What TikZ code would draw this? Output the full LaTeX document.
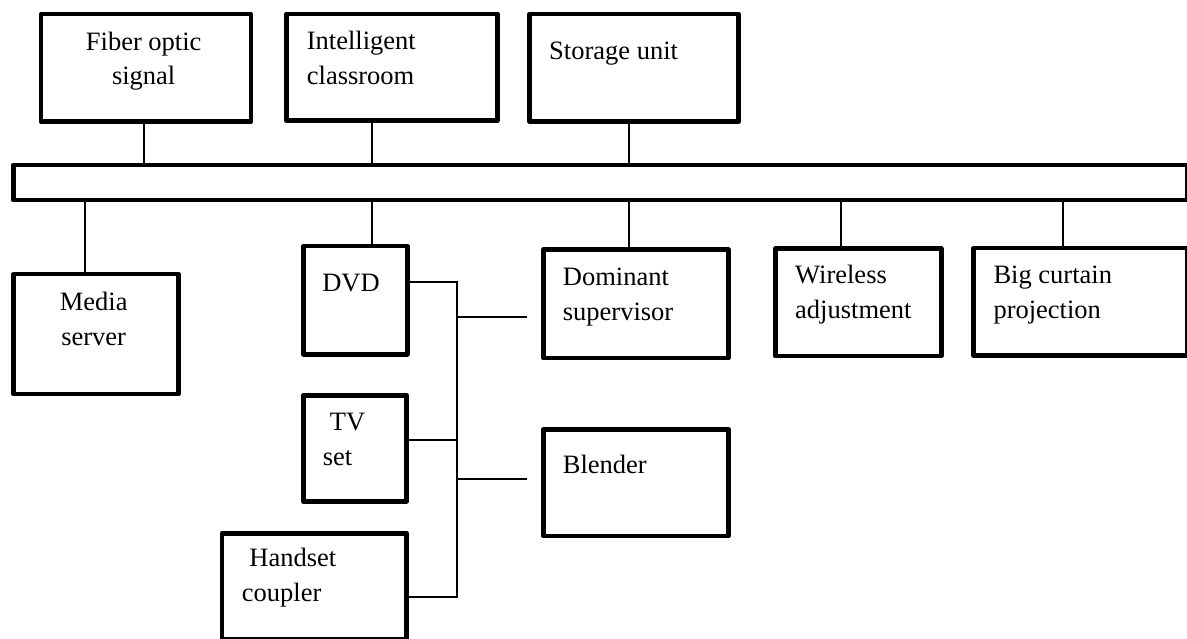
\documentclass[tikz,border=0pt]{standalone}
\usepackage{fontspec}
\setmainfont{Liberation Serif}
\begin{document}
\begin{tikzpicture}[x=1pt,y=1pt,
  box/.style={draw, line width=4.5pt, line join=round, inner sep=0pt, anchor=north west},
  wire/.style={line width=1.7pt},
  txt/.style={inner sep=0pt, font=\fontsize{26.5}{34.8}\selectfont}]
\useasboundingbox (0,0) rectangle (1187,-639);
% coordinates on the bus and junction
\coordinate (bf) at (144,-162.7);
\coordinate (bi) at (371.7,-162.7);
\coordinate (bs) at (629.3,-162.7);
\coordinate (bm) at (85.3,-198);
\coordinate (bd) at (371.7,-198);
\coordinate (bo) at (629.3,-198);
\coordinate (bw) at (841,-198);
\coordinate (bb) at (1063,-198);
\coordinate (jdvd) at (456.7,-282);
\coordinate (jdom) at (456.7,-317.3);
\coordinate (jtv) at (456.7,-440);
\coordinate (jbl) at (456.7,-479);
\coordinate (jhs) at (456.7,-597.3);
\coordinate (domend) at (526.7,-317.3);
\coordinate (blend) at (526.7,-479);
% boxes
\node[box, minimum width=210, minimum height=107.5] (fiber) at (38.7,-12) {};
\node[box, minimum width=210.7, minimum height=106.6] (intel) at (284.3,-11.7) {};
\node[box, minimum width=209, minimum height=107.5] (storage) at (527.3,-12) {};
\node[box, minimum width=1173.7, minimum height=35.3] (bus) at (11,-162.7) {};
\node[box, minimum width=165.3, minimum height=119.7] (media) at (11,-272) {};
\node[box, minimum width=104, minimum height=108] (dvd) at (301,-244) {};
\node[box, minimum width=185.3, minimum height=108.2] (dom) at (541,-247.5) {};
\node[box, minimum width=166, minimum height=107.4] (wire) at (773,-246.3) {};
\node[box, minimum width=213.7, minimum height=107] (big) at (971,-246) {};
\node[box, minimum width=103.3, minimum height=106] (tv) at (301,-393) {};
\node[box, minimum width=185.3, minimum height=106.7] (blender) at (541,-427) {};
\node[box, minimum width=184.6, minimum height=105.5] (handset) at (219.7,-531) {};
% connectors
\draw[wire] (bf) -- (bf |- fiber.south);
\draw[wire] (bi) -- (bi |- intel.south);
\draw[wire] (bs) -- (bs |- storage.south);
\draw[wire] (bm) -- (bm |- media.north);
\draw[wire] (bd) -- (bd |- dvd.north);
\draw[wire] (bo) -- (bo |- dom.north);
\draw[wire] (bw) -- (bw |- wire.north);
\draw[wire] (bb) -- (bb |- big.north);
\draw[wire] (jdvd -| dvd.east) -- (jdvd) -- (jhs) -- (jhs -| handset.east);
\draw[wire] (jtv -| tv.east) -- (jtv);
\draw[wire] (jdom) -- (domend);
\draw[wire] (jbl) -- (blend);
% texts (base anchor of multi-line nodes = baseline of last line)
\node[txt, align=center, anchor=base] (tfiber) at (143.7,-85) {Fiber optic\\signal};
\node[txt, align=left, anchor=base west] (tintel) at (306.7,-84.5) {Intelligent\\classroom};
\node[txt, anchor=base west] (tstorage) at (549,-60) {Storage unit};
\node[txt, align=center, anchor=base] (tmedia) at (93.7,-345) {Media\\server};
\node[txt, anchor=base] (tdvd) at (351,-291.7) {DVD};
\node[txt, align=left, anchor=base west] (tdom) at (562.7,-320) {Dominant\\supervisor};
\node[txt, align=left, anchor=base west] (twire) at (795,-318.3) {Wireless\\adjustment};
\node[txt, align=left, anchor=base west] (tbig) at (993.3,-318.3) {Big curtain\\projection};
\node[txt, align=left, anchor=base west] (ttv) at (322.7,-465) {\hspace*{7pt}TV\\set};
\node[txt, anchor=base west] (tblender) at (562.7,-473.3) {Blender};
\node[txt, align=left, anchor=base west] (thandset) at (241.7,-601.7) {\hspace*{7.5pt}Handset\\coupler};
\end{tikzpicture}
\end{document}
